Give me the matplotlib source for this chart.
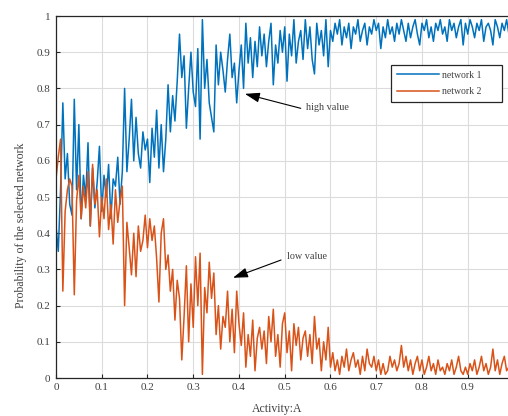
import numpy as np
import matplotlib.pyplot as plt

# sample step along the activity axis
step = 0.005

network1 = [
    0.42, 0.35, 0.52, 0.76, 0.55, 0.62, 0.48, 0.45, 0.77, 0.52,
    0.70, 0.44, 0.56, 0.50, 0.65, 0.42, 0.58, 0.47, 0.54, 0.64,
    0.46, 0.56, 0.50, 0.59, 0.44, 0.55, 0.53, 0.61, 0.48, 0.57,
    0.80, 0.57, 0.66, 0.77, 0.60, 0.72, 0.62, 0.58, 0.68, 0.63,
    0.66, 0.54, 0.69, 0.61, 0.74, 0.58, 0.70, 0.57, 0.66, 0.81,
    0.68, 0.78, 0.71, 0.82, 0.95, 0.83, 0.89, 0.69, 0.80, 0.90,
    0.79, 0.75, 0.91, 0.66, 0.99, 0.80, 0.88, 0.76, 0.72, 0.68,
    0.92, 0.81, 0.90, 0.85, 0.79, 0.88, 0.95, 0.83, 0.87, 0.76,
    0.85, 0.92, 0.80, 0.98, 0.87, 0.94, 0.83, 0.93, 0.86, 0.97,
    0.89, 0.95, 0.86, 0.93, 0.98, 0.81, 0.92, 0.87, 0.96, 0.90,
    0.97, 0.82, 0.95, 0.89, 0.99, 0.87, 0.93, 0.96, 0.88, 0.99,
    0.91, 0.97, 0.88, 0.84, 0.98, 0.92, 0.96, 0.89, 0.99, 0.86,
    0.96, 0.93, 0.98, 0.95, 0.99, 0.92, 0.97, 0.94, 0.98, 0.91,
    0.97, 0.95, 0.99, 0.93, 0.96, 0.98, 0.92, 0.97, 0.95, 0.99,
    0.96, 0.98, 0.91, 0.97, 0.94, 0.99, 0.95, 0.97, 0.93, 0.98,
    0.95, 0.99, 0.96, 0.93, 0.98, 0.94, 0.97, 0.99, 0.95, 0.92,
    0.98, 0.96, 0.99, 0.94, 0.97, 0.93, 0.98, 0.96, 0.99, 0.95,
    0.97, 0.93, 0.99, 0.96, 0.98, 0.94, 0.97, 0.99, 0.92, 0.98,
    0.95, 0.99, 0.97, 0.94, 0.98, 0.96, 0.99, 0.93, 0.97, 0.98,
    0.96, 0.92, 0.99, 0.97, 0.94, 0.98, 0.96, 0.99, 0.95, 0.97,
]

network2 = [
    0.55, 0.61, 0.66, 0.24, 0.46, 0.52, 0.55, 0.53, 0.23, 0.49,
    0.56, 0.44, 0.53, 0.47, 0.57, 0.42, 0.59, 0.48, 0.52, 0.39,
    0.50, 0.44, 0.55, 0.41, 0.48, 0.37, 0.52, 0.43, 0.49, 0.53,
    0.20, 0.43, 0.36, 0.285, 0.40, 0.28, 0.42, 0.35, 0.38, 0.45,
    0.36, 0.44, 0.38, 0.42, 0.33, 0.21, 0.40, 0.44, 0.30, 0.34,
    0.24, 0.30, 0.16, 0.27, 0.22, 0.05, 0.17, 0.31, 0.10, 0.26,
    0.14, 0.335, 0.20, 0.345, 0.01, 0.25, 0.18, 0.32, 0.22, 0.29,
    0.12, 0.20, 0.08, 0.17, 0.14, 0.24, 0.10, 0.19, 0.07, 0.24,
    0.15, 0.09, 0.18, 0.03, 0.12, 0.06, 0.16, 0.02, 0.11, 0.14,
    0.08, 0.13, 0.04, 0.17, 0.10, 0.19, 0.06, 0.12, 0.03, 0.15,
    0.18, 0.07, 0.13, 0.02, 0.15, 0.09, 0.14, 0.05, 0.11, 0.13,
    0.06, 0.12, 0.04, 0.17, 0.08, 0.11, 0.02, 0.10, 0.05, 0.14,
    0.03, 0.07, 0.02, 0.05, 0.01, 0.06, 0.03, 0.08, 0.02, 0.05,
    0.07, 0.03, 0.05, 0.01, 0.06, 0.02, 0.08, 0.04, 0.03, 0.06,
    0.02, 0.05, 0.01, 0.04, 0.01, 0.02, 0.06, 0.03, 0.05, 0.02,
    0.04, 0.09, 0.03, 0.06, 0.02, 0.05, 0.01, 0.04, 0.06, 0.02,
    0.05, 0.01, 0.03, 0.06, 0.02, 0.04, 0.01, 0.05, 0.02, 0.03,
    0.01, 0.04, 0.02, 0.05, 0.01, 0.03, 0.06, 0.02, 0.01, 0.03,
    0.01, 0.04, 0.02, 0.05, 0.01, 0.03, 0.06, 0.02, 0.04, 0.01,
    0.03, 0.08, 0.02, 0.05, 0.01, 0.04, 0.06, 0.02, 0.03, 0.05,
]

series_labels = ["network 1", "network 2"]
x_ticks = [0, 0.1, 0.2, 0.3, 0.4, 0.5, 0.6, 0.7, 0.8, 0.9]
x_tick_labels = ["0", "0.1", "0.2", "0.3", "0.4", "0.5", "0.6", "0.7", "0.8", "0.9"]
y_ticks = [0, 0.1, 0.2, 0.3, 0.4, 0.5, 0.6, 0.7, 0.8, 0.9, 1]
y_tick_labels = ["0", "0.1", "0.2", "0.3", "0.4", "0.5", "0.6", "0.7", "0.8", "0.9", "1"]

activity = np.arange(len(network1)) * step

plt.rcParams["font.family"] = ["Liberation Serif", "DejaVu Serif"]
text_color = "#404040"

fig = plt.figure(figsize=(5.08, 4.16), dpi=100)
# right edge of the axes runs past the canvas, as in the reference
ax = fig.add_axes([0.1102, 0.0913, 0.9006, 0.8702])

ax.plot(activity, network1, color="#0072BD", lw=1.1, label=series_labels[0])
ax.plot(activity, network2, color="#D95319", lw=1.1, label=series_labels[1])

ax.set_xlim(0, 1)
ax.set_ylim(0, 1)
ax.set_xticks(x_ticks)
ax.set_xticklabels(x_tick_labels)
ax.set_yticks(y_ticks)
ax.set_yticklabels(y_tick_labels)
ax.tick_params(direction="in", length=3, width=0.8, labelsize=8,
               labelcolor=text_color, color="#262626", top=False, right=False)
ax.tick_params(axis="y", pad=4)
ax.grid(True, color="#dcdcdc", lw=0.8)
ax.set_axisbelow(True)
for side in ["left", "bottom", "top"]:
    ax.spines[side].set_color("#262626")
    ax.spines[side].set_linewidth(0.9)
ax.spines["right"].set_visible(False)

ax.set_xlabel("Activity:A", fontsize=8.5, color=text_color)
ax.set_ylabel("Probability of the selected network", fontsize=8.5,
              color=text_color)
ax.xaxis.set_label_coords(0.483, -0.069)
ax.yaxis.set_label_coords(-0.064, 0.423)

arrow = dict(arrowstyle="-|>,head_length=0.9,head_width=0.3",
             color="black", lw=0.8, shrinkA=0, shrinkB=0)
ax.annotate("", xy=(0.413, 0.785), xytext=(0.535, 0.745), arrowprops=arrow)
ax.text(0.547, 0.746, "high value", fontsize=7.3, color=text_color,
        va="center", ha="left")
ax.annotate("", xy=(0.387, 0.277), xytext=(0.492, 0.326), arrowprops=arrow)
ax.text(0.504, 0.337, "low value", fontsize=7.3, color=text_color,
        va="center", ha="left")

leg = ax.legend(loc="upper left", bbox_to_anchor=(0.732, 0.765, 0.243, 0.1),
                mode="expand", fontsize=7, handlelength=4.3, labelspacing=0.75,
                borderpad=0.6, handletextpad=0.4, borderaxespad=0,
                fancybox=False, framealpha=1, edgecolor="#262626")
leg.get_frame().set_linewidth(0.9)
for t in leg.get_texts():
    t.set_color(text_color)

fig.savefig("out.png", dpi=100)
